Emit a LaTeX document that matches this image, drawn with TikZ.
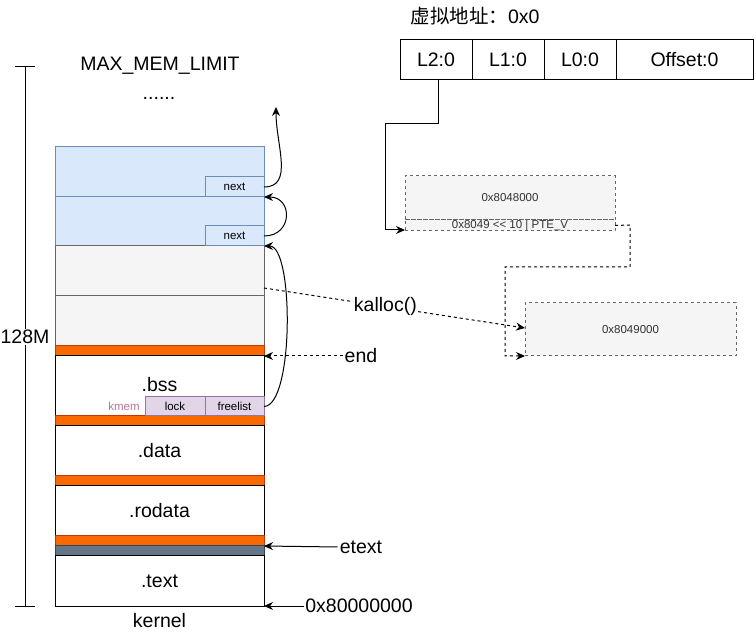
\documentclass[tikz,border=0pt]{standalone}
\usepackage{fontspec}
\setmainfont{Liberation Sans}
\newfontfamily\cjk{Noto Sans CJK SC}
\usetikzlibrary{arrows.meta}
\definecolor{bluefill}{HTML}{DAE8FC}
\definecolor{bluedraw}{HTML}{6C8EBF}
\definecolor{grayfill}{HTML}{F5F5F5}
\definecolor{graydraw}{HTML}{666666}
\definecolor{orfill}{HTML}{FA6800}
\definecolor{ordraw}{HTML}{C73500}
\definecolor{slfill}{HTML}{647687}
\definecolor{sldraw}{HTML}{314354}
\definecolor{pufill}{HTML}{E1D5E7}
\definecolor{pudraw}{HTML}{9673A6}
\definecolor{kmemc}{HTML}{B5739D}
\definecolor{txtgray}{HTML}{333333}
\newcommand{\bigfnt}{\fontsize{19.5}{22}\selectfont}
\newcommand{\smfnt}{\fontsize{11.5}{13}\selectfont}
\tikzset{
  box/.style={draw, line width=1pt, inner sep=0pt, outer sep=0pt, minimum width=209pt},
  bluebox/.style={box, fill=bluefill, draw=bluedraw},
  graybox/.style={box, fill=grayfill, draw=graydraw},
  orbar/.style={box, fill=orfill, draw=ordraw, minimum height=10pt},
  slbar/.style={box, fill=slfill, draw=sldraw, minimum height=10pt},
  whitebox/.style={box, fill=white, draw=black, minimum height=50pt, font=\bigfnt},
  smallbox/.style={draw, line width=1pt, inner sep=0pt, outer sep=0pt, font=\smfnt, minimum height=20pt},
  addrbox/.style={draw, line width=1pt, inner sep=0pt, outer sep=0pt, minimum height=40pt, font=\bigfnt},
  dbox/.style={draw=graydraw, dashed, line width=1pt, fill=grayfill, inner sep=0pt, outer sep=0pt, font=\smfnt, text=txtgray, minimum width=210pt},
  lbl/.style={inner sep=0pt, font=\bigfnt},
  arr/.style={line width=1pt, -{Stealth[length=9pt,width=8pt]}},
}
\begin{document}
\begin{tikzpicture}[x=1pt,y=-1pt]
\useasboundingbox (0,0) rectangle (756,636);
% axis
\draw[line width=1pt] (25,67) -- (25,606);
\draw[line width=1pt] (15,67) -- (35,67);
\draw[line width=1pt] (15,606) -- (35,606);
\node[lbl, fill=white, inner sep=1pt] (m128) at (25,337) {128M};
\node[lbl] (max) at (160,66) {MAX\_MEM\_LIMIT};
\node[lbl] (dots) at (159,98) {......};
% kernel stack
\node[bluebox, minimum height=50pt] (b1) at (159.5,172) {};
\node[bluebox, minimum height=49pt] (b2) at (159.5,221.5) {};
\node[graybox, minimum height=50pt] (g1) at (159.5,271) {};
\node[graybox, minimum height=50pt] (g2) at (159.5,321) {};
\node[orbar] (o1) at (159.5,351) {};
\node[whitebox, minimum height=60pt] (bss) at (159.5,386) {};
\node[lbl] (bsst) at (159.5,385) {.bss};
\node[orbar] (o2) at (159.5,421) {};
\node[whitebox] (data) at (159.5,451) {.data};
\node[orbar] (o3) at (159.5,481) {};
\node[whitebox] (rodata) at (159.5,511) {.rodata};
\node[orbar] (o4) at (159.5,541) {};
\node[slbar] (sl) at (159.5,551) {};
\node[whitebox] (text) at (159.5,581) {.text};
\node[lbl] (kernel) at (159.5,621) {kernel};
% next boxes
\node[smallbox, fill=bluefill, draw=bluedraw, minimum width=59pt] (n1) at (234.5,187) {next};
\node[smallbox, fill=bluefill, draw=bluedraw, minimum width=59pt] (n2) at (234.5,236) {next};
% kmem
\node[smallbox, fill=pufill, draw=pudraw, minimum width=60pt, minimum height=19pt] (lock) at (175,406.5) {lock};
\node[smallbox, fill=pufill, draw=pudraw, minimum width=59pt, minimum height=19pt] (free) at (234.5,406.5) {freelist};
\node[inner sep=0pt, font=\smfnt, text=kmemc] (kmem) at (124,406) {kmem};
% curves
\coordinate (top) at (276,107);
\draw[arr] (n1.east) .. controls (294,187) and (276,145) .. (top);
\draw[arr] (n2.east) .. controls (293,236) and (293,197) .. (b2.north east);
\draw[arr] (free.east) .. controls (294,406) and (294,246) .. (g1.north east);
% labels right of stack
\node[lbl] (end) at (361,356) {end};
\draw[arr, dashed] (end.west) ++(-2,0) -- (o1.south east);
\node[lbl] (etext) at (361,547) {etext};
\draw[arr] (etext.west) ++(-2,0) -- (o4.south east);
\node[lbl] (addr) at (359,606) {0x80000000};
\draw[arr] (addr.west) ++(-1,0) -- (text.south east);
% address
\node[lbl] (vaddr) at (475,16) {{\cjk 虚拟地址：}0x0};
\node[addrbox, minimum width=72pt] (l2) at (436,60) {L2:0};
\node[addrbox, minimum width=72pt] (l1) at (508,60) {L1:0};
\node[addrbox, minimum width=72pt] (l0) at (580,60) {L0:0};
\node[addrbox, minimum width=137pt] (off) at (684.5,60) {Offset:0};
% page tables
\node[dbox, minimum height=44pt, anchor=north west] (pt) at (405,176) {};
\node[font=\smfnt, text=txtgray] at (pt.center) {0x8048000};
\node[dbox, minimum height=11pt, anchor=north west] (pte) at (405,220) {};
\node[font=\smfnt, text=txtgray, inner sep=0pt] at ([yshift=-0.5pt]pte.center) {0x8049 {<}{<} 10 | PTE\_V};
\node[dbox, minimum width=211pt, minimum height=53pt, anchor=north west] (pg) at (525,303) {};
\node[font=\smfnt, text=txtgray] at (pg.center) {0x8049000};
\draw[arr] (l2.south -| 438,0) -- (438,124) -- (385,124) -- (385,230) -- (pte.west |- 0,230);
\draw[arr, dashed] (pte.east) -- (630,225) -- (630,267) -- (505,267) -- (505,356) -- (pg.west |- 0,356);
% kalloc
\coordinate (ks) at (264,288);
\draw[arr, dashed] (ks) -- (pg.west |- 0,328) node[pos=0.465, lbl, fill=white, inner sep=1pt] (kalloc) {kalloc()};
\end{tikzpicture}
\end{document}
